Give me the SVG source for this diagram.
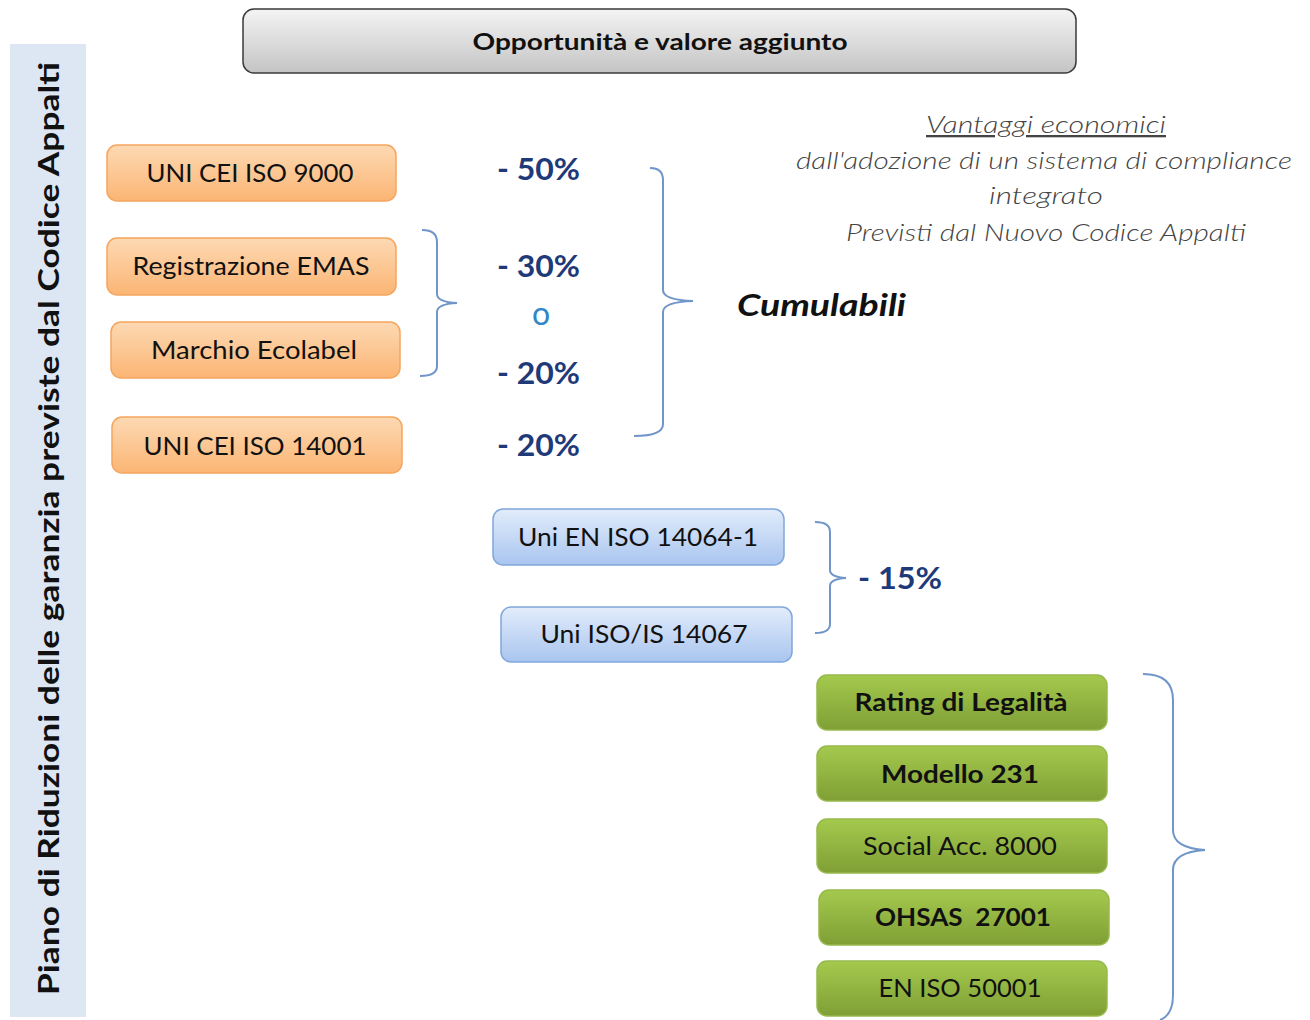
<svg xmlns="http://www.w3.org/2000/svg" width="1310" height="1020" viewBox="0 0 1310 1020">
<defs>
<linearGradient id="gGray" x1="0" y1="0" x2="0" y2="1"><stop offset="0" stop-color="#f4f4f4"/><stop offset="1" stop-color="#c4c4c4"/></linearGradient>
<linearGradient id="gOrange" x1="0" y1="0" x2="0" y2="1"><stop offset="0" stop-color="#fdd9b3"/><stop offset="1" stop-color="#fbb574"/></linearGradient>
<linearGradient id="gBlue" x1="0" y1="0" x2="0" y2="1"><stop offset="0" stop-color="#e2ecfb"/><stop offset="1" stop-color="#a9c5ef"/></linearGradient>
<linearGradient id="gGreen" x1="0" y1="0" x2="0" y2="1"><stop offset="0" stop-color="#a5c94e"/><stop offset="1" stop-color="#7f9f35"/></linearGradient>
</defs>
<style>
text{font-family:Lato,"Open Sans","Liberation Sans",sans-serif;}
.box-o{fill:url(#gOrange);stroke:#f5a55e;stroke-width:1.5;}
.box-b{fill:url(#gBlue);stroke:#80a6dc;stroke-width:1.5;}
.box-g{fill:url(#gGreen);stroke:#97b94b;stroke-width:1.5;}
.lbl{font-size:25px;fill:#111;text-anchor:middle;}
.bold{font-weight:bold;}
.pct{font-size:31px;fill:#1f3a78;font-weight:bold;}
.brace{fill:none;stroke:#6f95c9;stroke-width:2;}
.note{font-size:23px;font-style:italic;fill:#444;font-weight:300;text-anchor:middle;}
</style>
<rect width="1310" height="1020" fill="#ffffff"/>

<g id="side-panel">
<rect x="10" y="44" width="76" height="973" fill="#dde7f3"/>
<text transform="translate(59,995) rotate(-90)" font-size="28" font-weight="bold" fill="#111" textLength="933" lengthAdjust="spacingAndGlyphs">Piano di Riduzioni delle garanzia previste dal Codice Appalti</text>
</g>

<g id="title">
<rect x="243" y="9" width="833" height="64" rx="11" fill="url(#gGray)" stroke="#3a3a3a" stroke-width="1.5"/>
<text x="660" y="50" font-size="22" font-weight="bold" fill="#111" text-anchor="middle" textLength="375" lengthAdjust="spacingAndGlyphs">Opportunità e valore aggiunto</text>
</g>

<g id="n-iso9000"><rect class="box-o" x="107" y="145" width="289" height="56" rx="10"/><text class="lbl" x="250" y="182" textLength="207" lengthAdjust="spacingAndGlyphs">UNI CEI ISO 9000</text></g>
<g id="n-emas"><rect class="box-o" x="107" y="238" width="289" height="57" rx="10"/><text class="lbl" x="251" y="275" textLength="237" lengthAdjust="spacingAndGlyphs">Registrazione EMAS</text></g>
<g id="n-ecolabel"><rect class="box-o" x="111" y="322" width="289" height="56" rx="10"/><text class="lbl" x="254" y="359" textLength="206" lengthAdjust="spacingAndGlyphs">Marchio Ecolabel</text></g>
<g id="n-iso14001"><rect class="box-o" x="112" y="417" width="290" height="56" rx="10"/><text class="lbl" x="255" y="455" textLength="223" lengthAdjust="spacingAndGlyphs">UNI CEI ISO 14001</text></g>

<g id="n-14064"><rect class="box-b" x="493" y="509" width="291" height="56" rx="10"/><text class="lbl" x="638" y="546" textLength="240" lengthAdjust="spacingAndGlyphs">Uni EN ISO 14064-1</text></g>
<g id="n-14067"><rect class="box-b" x="501" y="607" width="291" height="55" rx="10"/><text class="lbl" x="644" y="643" textLength="207" lengthAdjust="spacingAndGlyphs">Uni ISO/IS 14067</text></g>

<g id="n-rating"><rect class="box-g" x="817" y="675" width="290" height="55" rx="10"/><text class="lbl bold" x="961" y="711" textLength="213" lengthAdjust="spacingAndGlyphs">Rating di Legalità</text></g>
<g id="n-231"><rect class="box-g" x="817" y="746" width="290" height="55" rx="10"/><text class="lbl bold" x="960" y="783" textLength="158" lengthAdjust="spacingAndGlyphs">Modello 231</text></g>
<g id="n-sa8000"><rect class="box-g" x="817" y="819" width="290" height="54" rx="10"/><text class="lbl" x="960" y="855" textLength="194" lengthAdjust="spacingAndGlyphs">Social Acc. 8000</text></g>
<g id="n-ohsas"><rect class="box-g" x="819" y="890" width="290" height="55" rx="10"/><text class="lbl bold" x="963" y="926" textLength="176" lengthAdjust="spacingAndGlyphs" xml:space="preserve">OHSAS  27001</text></g>
<g id="n-50001"><rect class="box-g" x="817" y="961" width="290" height="55" rx="10"/><text class="lbl" x="960" y="997" textLength="163" lengthAdjust="spacingAndGlyphs">EN ISO 50001</text></g>

<g id="connectors">
<path class="brace" d="M422,230 Q437,230 437,242 L437,294 Q437,302 457,303 Q437,304 437,312 L437,366 Q437,376 420,376"/>
<path class="brace" d="M650,168 Q663,168 663,180 L663,290 Q663,300 693,301 Q663,302 663,312 L663,424 Q663,436 634,436"/>
<path class="brace" d="M815,522 Q830,522 830,532 L830,570 Q830,577 846,578 Q830,579 830,586 L830,624 Q830,633 815,633"/>
<path class="brace" d="M1143,674 Q1173,674 1173,700 L1173,830 Q1173,848 1205,850 Q1173,852 1173,870 L1173,995 Q1173,1015 1160,1020"/>
</g>

<g id="percentages">
<text class="pct" x="497" y="180" textLength="83" lengthAdjust="spacingAndGlyphs">- 50%</text>
<text class="pct" x="497" y="277" textLength="83" lengthAdjust="spacingAndGlyphs">- 30%</text>
<text x="541" y="325" font-size="32" fill="#2f86c8" text-anchor="middle">o</text>
<text class="pct" x="497" y="384" textLength="83" lengthAdjust="spacingAndGlyphs">- 20%</text>
<text class="pct" x="497" y="456" textLength="83" lengthAdjust="spacingAndGlyphs">- 20%</text>
<text class="pct" x="858" y="589" textLength="84" lengthAdjust="spacingAndGlyphs">- 15%</text>
</g>

<g id="cumulabili">
<text x="737" y="316" font-size="30" font-weight="bold" font-style="italic" fill="#111" textLength="169" lengthAdjust="spacingAndGlyphs">Cumulabili</text>
</g>

<g id="note">
<text class="note" x="1046" y="133" text-decoration="underline" textLength="240" lengthAdjust="spacingAndGlyphs">Vantaggi economici</text>
<text class="note" x="1044" y="169" textLength="496" lengthAdjust="spacingAndGlyphs">dall'adozione di un sistema di compliance</text>
<text class="note" x="1046" y="204" textLength="114" lengthAdjust="spacingAndGlyphs">integrato</text>
<text class="note" x="1046" y="241" textLength="400" lengthAdjust="spacingAndGlyphs">Previsti dal Nuovo Codice Appalti</text>
</g>
</svg>
